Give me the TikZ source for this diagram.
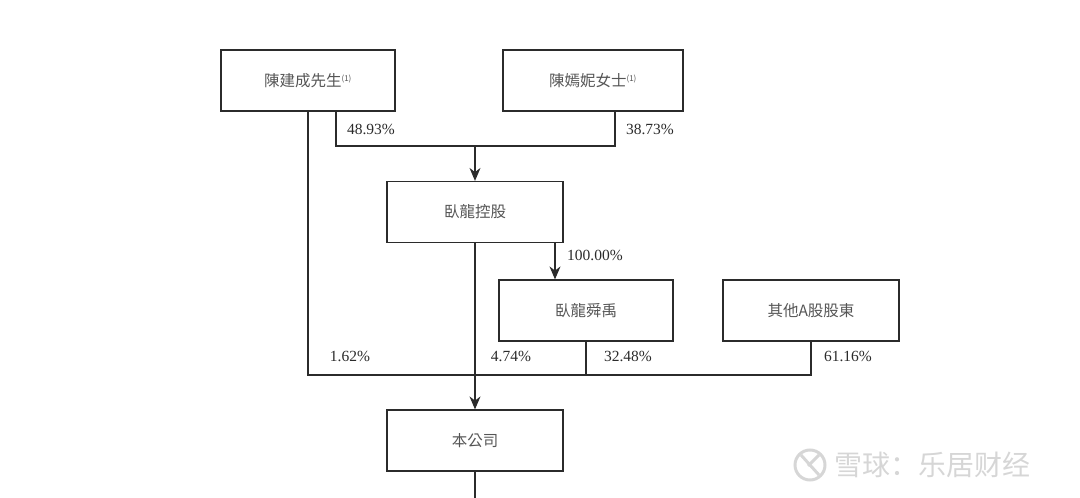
\documentclass[tikz,border=0pt]{standalone}
\usepackage{fontspec}
\setmainfont{Liberation Serif}
\newfontfamily\cjk{Noto Sans CJK TC}
\newfontfamily\cjksc{Noto Sans CJK SC}
\usepackage{xcolor}
\usetikzlibrary{arrows.meta}

\definecolor{boxline}{HTML}{2B2B2B}
\definecolor{boxtext}{HTML}{555555}
\definecolor{wmark}{HTML}{D6D6D6}

\tikzset{
  holder/.style={draw=boxline, line width=1.2pt, minimum width=174pt, minimum height=61pt,
                 inner sep=0pt, font=\cjk\fontsize{15.5}{18}\selectfont, text=boxtext},
  pct/.style={draw=none, inner sep=0pt, font=\fontsize{15.5}{18}\selectfont, text=boxline},
  link/.style={draw=boxline, line width=1.2pt},
  feed/.style={link, -{Stealth[length=13pt,width=11pt]}}
}

\newcommand{\note}{\textsuperscript{\fontsize{8}{9}\selectfont(1)}}

\begin{document}
\begin{tikzpicture}[x=1pt,y=-1pt]
             \useasboundingbox (0,0) rectangle (1080,498);

             % shareholders
             \node[holder] (chen) at (308,80.5) {陳建成先生\note};
             \node[holder, minimum width=180pt] (yanni) at (593,80.5) {陳嫣妮女士\note};
             \node[holder, minimum width=176pt] (wolong) at (475,212) {臥龍控股};
             \node[holder] (shunyu) at (586,310.5) {臥龍舜禹};
             \node[holder, minimum width=176pt] (others) at (811,310.5) {其他A股股東};
             \node[holder, minimum width=176pt] (company) at (475,440.5) {本公司};

             \coordinate (topbus) at (475,146);
             \coordinate (lowbus) at (475,375);
             \coordinate (tail) at (475,498);

             % top level
             \draw[link] ([xshift=28pt]chen.south) |- ([xshift=22pt]yanni.south |- topbus)
                         -- ([xshift=22pt]yanni.south);
             \draw[feed] (topbus) -- (wolong.north);
             \node[pct] (p4893) at (371,129) {48.93\%};
             \node[pct] (p3873) at (650,129) {38.73\%};

             % middle level
             \draw[feed] ([xshift=80pt]wolong.south) -- ([xshift=80pt]wolong.south |- shunyu.north);
             \node[pct, anchor=west] (p100) at (567,255) {100.00\%};

             % bottom bus
             \draw[link] (chen.south) |- (others.south |- lowbus) -- (others.south);
             \draw[link] (shunyu.south) -- (shunyu.south |- lowbus);
             \draw[feed] (wolong.south) -- (company.north);
             \draw[link] (company.south) -- (tail);
             \node[pct] (p162) at (350,356) {1.62\%};
             \node[pct] (p474) at (511,356) {4.74\%};
             \node[pct] (p3248) at (628,356) {32.48\%};
             \node[pct] (p6116) at (848,356) {61.16\%};

             % watermark
             \draw[wmark, line width=3pt] (810,465) circle (15pt);
             \draw[wmark, line width=3pt] (801,455) -- (819,475);
             \draw[wmark, line width=3pt] (819,455) -- (808,466);
             \node[draw=none, anchor=west, inner sep=0pt, text=wmark,
                   font=\cjksc\fontsize{28}{30}\selectfont] (mark) at (834,465) {雪球：乐居财经};
\end{tikzpicture}
\end{document}
